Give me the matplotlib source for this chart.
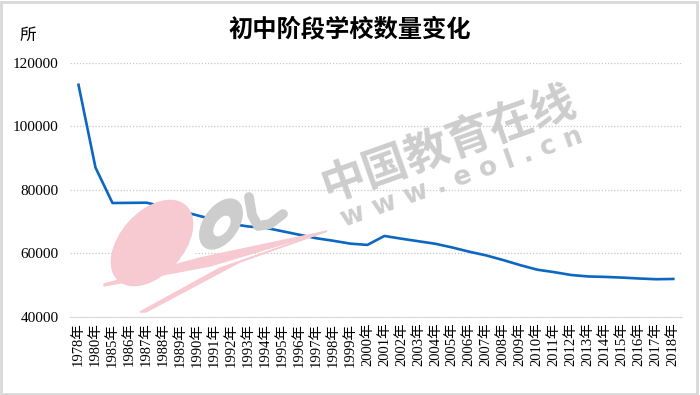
import numpy as np
import matplotlib.pyplot as plt
from matplotlib.patches import Ellipse, Polygon, Rectangle
from matplotlib.transforms import IdentityTransform

plt.rcParams['font.family'] = ['Liberation Serif', 'Noto Sans CJK SC', 'DejaVu Sans']

years = ['1978', '1980'] + [str(y) for y in range(1985, 2019)]
labels = [y + '年' for y in years]
schools = [113130, 87077, 75903, 75950, 76000, 74800, 73400, 72000, 70600, 69300,
           68500, 68100, 67000, 65900, 64800, 64000, 63100, 62704, 65525, 64661,
           63858, 63060, 61885, 60550, 59384, 57914, 56320, 54890, 54117, 53216,
           52764, 52623, 52405, 52118, 51894, 51982]

W, H = 700, 395
fig = plt.figure(figsize=(W / 100, H / 100), dpi=100)
ax = fig.add_axes([0.1, 0.1975, 0.874, 0.643])
ax.patch.set_alpha(0)
px = IdentityTransform()

def pt(x, y):
    # pixel from top-left -> display coords
    return (x, H - y)

# watermark logo (behind the chart)
pink = '#f7c9d1'
grey = '#cdcdcd'
fig.patches.append(Ellipse(pt(152, 243), 100, 62, angle=48, color=pink, transform=px, zorder=0))
fig.patches.append(Polygon([pt(104, 284), pt(200, 258), pt(327, 231), pt(210, 266), pt(104, 286)],
                           color=pink, transform=px, zorder=0))
fig.patches.append(Polygon([pt(140, 312), pt(220, 268), pt(327, 231), pt(240, 262), pt(146, 312)],
                           color=pink, transform=px, zorder=0))
fig.lines.append(plt.Line2D([108, 212], [H - 280, H - 246], color='white', linewidth=2.5,
                            transform=px, zorder=0))
fig.patches.append(Ellipse(pt(221, 224), 34, 56, angle=-35, color=grey, transform=px, zorder=0))
fig.patches.append(Ellipse(pt(222, 226), 12, 22, angle=-35, color='white', transform=px, zorder=0))
fig.lines.append(plt.Line2D([249, 252, 258, 270, 283], [H - 197, H - 215, H - 226, H - 224, H - 214],
                            color=grey, linewidth=7, solid_capstyle='round', transform=px, zorder=0))

fig.text(0.64, 0.635, '中国教育在线', fontsize=32, color=grey, fontweight='bold',
         family='Noto Sans CJK SC', rotation=19.5, ha='center', va='center', zorder=0)
fig.text(0.66, 0.55, 'w w w . e o l . c n', fontsize=19, color=grey, fontweight='bold',
         family='DejaVu Sans', rotation=19.5, ha='center', va='center', zorder=0)

x = np.arange(len(labels))
ax.plot(x, schools, color='#0b67c2', linewidth=1.9, zorder=3)

ax.set_xlim(-0.5, len(labels) - 0.5)
ax.set_ylim(40000, 120000)
ax.set_yticks(np.arange(40000, 120001, 20000))
ax.set_xticks(x)
ax.set_xticklabels(labels, rotation=90, fontsize=10.5)
ax.tick_params(axis='y', labelsize=11, length=0, pad=8)
ax.tick_params(axis='x', length=0, pad=4)
ax.yaxis.grid(True, linestyle=(0, (1, 1.5)), color='#c8c8c8', linewidth=0.9)
for s in ['left', 'right', 'top']:
    ax.spines[s].set_visible(False)
ax.spines['bottom'].set_color('#d9d9d9')
ax.set_axisbelow(True)

fig.text(0.5, 0.925, '初中阶段学校数量变化', fontsize=17.5, fontweight='bold',
         family='Noto Sans CJK SC', ha='center', va='center')
fig.text(0.04, 0.91, '所', fontsize=12, family='Noto Sans CJK SC', ha='center', va='center')

fig.patches.append(Rectangle((0.002, 0.003), 0.994, 0.993, fill=False, edgecolor='#d9d9d9',
                             linewidth=2, transform=fig.transFigure))

plt.savefig('out.png', dpi=100)
